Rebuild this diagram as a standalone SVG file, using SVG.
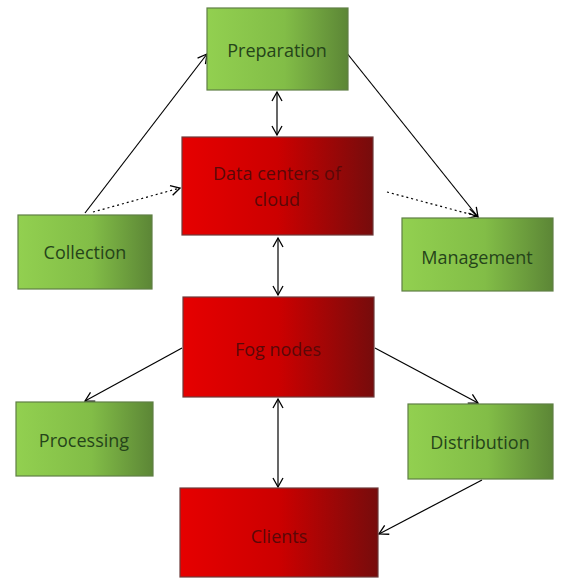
<svg xmlns="http://www.w3.org/2000/svg" width="562" height="581" viewBox="0 0 562 581">
<defs>
<linearGradient id="gGreen" x1="0" y1="0" x2="1" y2="0">
<stop offset="0" stop-color="#92d050"/>
<stop offset="0.55" stop-color="#82bd47"/>
<stop offset="1" stop-color="#5c8636"/>
</linearGradient>
<linearGradient id="gRed" x1="0" y1="0" x2="1" y2="0">
<stop offset="0" stop-color="#e60000"/>
<stop offset="0.5" stop-color="#cc0000"/>
<stop offset="1" stop-color="#760c0c"/>
</linearGradient>
<marker id="ah" markerWidth="12" markerHeight="12" refX="10" refY="6" orient="auto-start-reverse" markerUnits="userSpaceOnUse">
<path d="M1,1 L10,6 L1,11" fill="none" stroke="#000" stroke-width="1.3"/>
</marker>
</defs>
<style>
.g{fill:url(#gGreen);stroke:#5f7f45;stroke-width:1.2}
.r{fill:url(#gRed);stroke:#6e3a3a;stroke-width:1.2}
.tg{font-family:"Open Sans","Liberation Sans",sans-serif;font-size:18px;fill:#25441a;text-anchor:middle;dominant-baseline:central}
.tr{font-family:"Open Sans","Liberation Sans",sans-serif;font-size:18px;fill:#5a0808;text-anchor:middle;dominant-baseline:central}
.c{stroke:#000;stroke-width:1.2;fill:none;marker-end:url(#ah)}
.d{stroke:#000;stroke-width:1.2;fill:none;stroke-dasharray:2,3;marker-end:url(#ah)}
.b{stroke:#000;stroke-width:1.2;fill:none;marker-end:url(#ah);marker-start:url(#ah)}
</style>
<g id="connectors">
<line class="c" x1="85" y1="213" x2="207" y2="54"/>
<line class="d" x1="93" y1="212" x2="180" y2="188"/>
<line class="c" x1="346" y1="52" x2="478" y2="217"/>
<line class="d" x1="387" y1="192" x2="477" y2="216"/>
<line class="b" x1="277" y1="92" x2="277" y2="135"/>
<line class="b" x1="278" y1="238" x2="278" y2="295"/>
<line class="c" x1="182" y1="348" x2="85" y2="401"/>
<line class="c" x1="375" y1="348" x2="478" y2="403"/>
<line class="b" x1="278" y1="399" x2="278" y2="487"/>
<line class="c" x1="482" y1="480" x2="379" y2="534"/>
</g>
<g id="preparation"><rect class="g" x="207" y="8" width="141" height="82"/><text class="tg" x="277" y="50">Preparation</text></g>
<g id="datacenters"><rect class="r" x="182" y="137" width="191" height="98"/><text class="tr" x="277" y="173">Data centers of</text><text class="tr" x="277" y="199">cloud</text></g>
<g id="collection"><rect class="g" x="18" y="215" width="134" height="74"/><text class="tg" x="85" y="252">Collection</text></g>
<g id="management"><rect class="g" x="402" y="218" width="151" height="73"/><text class="tg" x="477" y="257">Management</text></g>
<g id="fognodes"><rect class="r" x="183" y="297" width="191" height="100"/><text class="tr" x="278" y="349">Fog nodes</text></g>
<g id="processing"><rect class="g" x="16" y="402" width="137" height="74"/><text class="tg" x="84" y="440">Processing</text></g>
<g id="distribution"><rect class="g" x="408" y="404" width="145" height="75"/><text class="tg" x="480" y="442">Distribution</text></g>
<g id="clients"><rect class="r" x="180" y="488" width="198" height="89"/><text class="tr" x="279" y="536">Clients</text></g>
</svg>
